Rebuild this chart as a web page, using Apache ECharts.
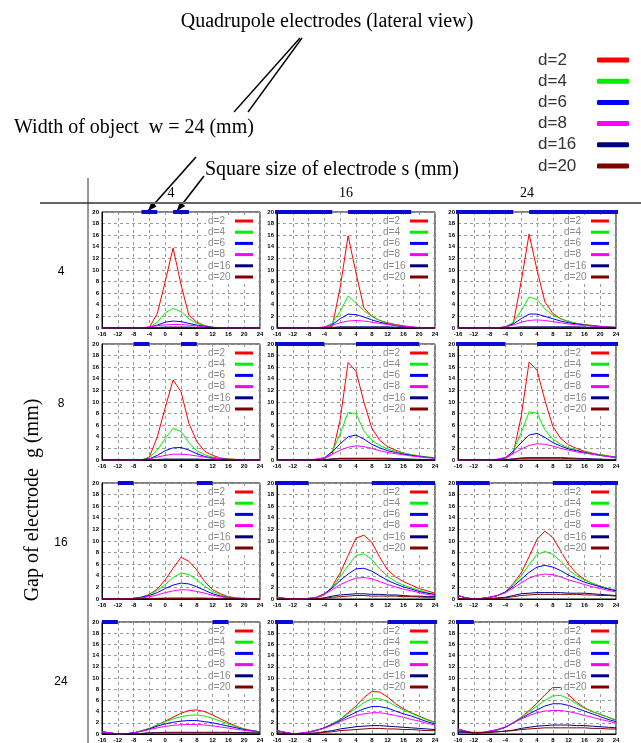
<!DOCTYPE html>
<html>
<head>
<meta charset="utf-8">
<script src="https://cdn.jsdelivr.net/npm/echarts@6/dist/echarts.min.js"></script>
<style>html,body{margin:0;padding:0;background:#fff}#chart{width:641px;height:743px}</style>
</head>
<body>
<div id="chart"></div>
<script>
var chartDom = document.getElementById('chart');
var myChart = echarts.init(chartDom);

// x positions (mm) shared by every curve
var xs = [-16, -14, -12, -10, -8, -6, -4, -2, 0, 2, 4, 6, 8, 10, 12, 14, 16, 18, 20, 22, 24];
var dNames = ['d=2', 'd=4', 'd=6', 'd=8', 'd=16', 'd=20'];
var dColors = ['#ff0000', '#00ee00', '#0000ff', '#ff00ff', '#000080', '#800000'];
var gaps = [4, 8, 16, 24];      // rows: gap of electrode g
var sizes = [4, 16, 24];        // columns: square size s
var gapLabels = ['4', '8', '16', '24'];
var sizeLabels = ['4', '16', '24'];

// one array per panel, rows are d=2, d=4, d=6, d=8, d=16, d=20
var g4s4 = [
    [0, 0, 0, 0, 0, 0, 0.1, 2.5, 8, 13.8, 7.5, 2.2, 1, 0.4, 0.1, 0, 0, 0, 0, 0, 0],
    [0, 0, 0, 0, 0, 0, 0.1, 1.0, 2.6, 3.4, 2.8, 1.6, 0.8, 0.4, 0.15, 0.05, 0, 0, 0, 0, 0],
    [0, 0, 0, 0, 0, 0, 0.1, 0.5, 1.0, 1.2, 1.1, 0.8, 0.5, 0.3, 0.1, 0, 0, 0, 0, 0, 0],
    [0, 0, 0, 0, 0, 0.05, 0.2, 0.4, 0.55, 0.6, 0.6, 0.5, 0.35, 0.2, 0.1, 0.05, 0, 0, 0, 0, 0],
    [0, 0, 0, 0, 0, 0, 0.05, 0.1, 0.15, 0.15, 0.15, 0.15, 0.1, 0.1, 0.05, 0, 0, 0, 0, 0, 0],
    [0, 0, 0, 0, 0, 0, 0, 0.05, 0.1, 0.1, 0.1, 0.1, 0.05, 0.05, 0, 0, 0, 0, 0, 0, 0]
];
var g4s16 = [
    [0, 0, 0, 0, 0, 0, 0, 0.3, 7, 15.9, 9.5, 3.5, 2.0, 1.3, 0.9, 0.6, 0.4, 0.2, 0, 0, 0],
    [0, 0, 0, 0, 0, 0, 0.1, 0.9, 2.9, 5.5, 4.3, 3.0, 2.0, 1.3, 0.8, 0.5, 0.3, 0.15, 0, 0, 0],
    [0, 0, 0, 0, 0, 0, 0.1, 0.6, 1.6, 2.4, 2.3, 1.9, 1.4, 1.0, 0.7, 0.4, 0.25, 0.1, 0, 0, 0],
    [0, 0, 0, 0, 0, 0.05, 0.2, 0.5, 0.9, 1.2, 1.3, 1.2, 1.0, 0.8, 0.6, 0.45, 0.3, 0.2, 0.1, 0, 0],
    [0, 0, 0, 0, 0, 0, 0, 0.1, 0.2, 0.2, 0.2, 0.2, 0.2, 0.2, 0.2, 0.15, 0.1, 0, 0, 0, 0],
    [0, 0, 0, 0, 0, 0, 0, 0.05, 0.1, 0.1, 0.1, 0.1, 0.1, 0.1, 0.1, 0.05, 0, 0, 0, 0, 0]
];
var g4s24 = [
    [0, 0, 0, 0, 0, 0, 0, 0.8, 8, 16.2, 10, 4.5, 2.5, 1.6, 1.1, 0.8, 0.6, 0.45, 0.3, 0.2, 0.1],
    [0, 0, 0, 0, 0, 0, 0.2, 1.0, 3.0, 5.35, 4.9, 3.3, 2.2, 1.6, 1.1, 0.8, 0.55, 0.4, 0.25, 0.15, 0.1],
    [0, 0, 0, 0, 0, 0, 0.2, 0.7, 1.6, 2.4, 2.4, 2.0, 1.6, 1.2, 0.9, 0.7, 0.5, 0.35, 0.25, 0.15, 0.1],
    [0, 0, 0, 0, 0, 0.05, 0.2, 0.5, 1.0, 1.3, 1.4, 1.3, 1.1, 0.9, 0.7, 0.55, 0.45, 0.35, 0.25, 0.15, 0.1],
    [0, 0, 0, 0, 0, 0, 0.05, 0.1, 0.2, 0.2, 0.2, 0.2, 0.2, 0.2, 0.2, 0.2, 0.15, 0.1, 0.1, 0.05, 0.05],
    [0, 0, 0, 0, 0, 0, 0, 0.05, 0.1, 0.1, 0.1, 0.1, 0.1, 0.1, 0.1, 0.1, 0.1, 0.05, 0.05, 0, 0]
];
var g8s4 = [
    [0, 0, 0, 0, 0, 0, 0.5, 4, 9, 13.8, 11.8, 6.3, 3.2, 1.5, 0.8, 0.35, 0.2, 0.1, 0, 0, 0],
    [0, 0, 0, 0, 0, 0.05, 0.4, 1.7, 3.7, 5.45, 4.9, 3.0, 1.6, 0.9, 0.5, 0.3, 0.15, 0.1, 0.05, 0, 0],
    [0, 0, 0, 0, 0, 0.05, 0.2, 0.8, 1.6, 2.1, 2.15, 1.7, 1.1, 0.6, 0.35, 0.2, 0.1, 0.05, 0, 0, 0],
    [0, 0, 0, 0, 0, 0.05, 0.2, 0.5, 0.8, 1.0, 1.0, 0.9, 0.7, 0.5, 0.3, 0.2, 0.1, 0.05, 0, 0, 0],
    [0, 0, 0, 0, 0, 0, 0.05, 0.1, 0.15, 0.15, 0.15, 0.15, 0.15, 0.1, 0.1, 0.05, 0, 0, 0, 0, 0],
    [0, 0, 0, 0, 0, 0, 0, 0.05, 0.1, 0.1, 0.1, 0.1, 0.1, 0.05, 0.05, 0, 0, 0, 0, 0, 0]
];
var g8s16 = [
    [0, 0, 0, 0, 0, 0, 0.2, 1.0, 7, 16.8, 15.3, 10, 5.5, 3.4, 2.3, 1.7, 1.2, 0.9, 0.7, 0.5, 0.4],
    [0, 0, 0, 0, 0, 0.05, 0.3, 1.5, 4.5, 8.2, 8.0, 5.0, 3.4, 2.5, 1.9, 1.5, 1.2, 0.9, 0.7, 0.5, 0.4],
    [0, 0, 0, 0, 0, 0.1, 0.4, 1.4, 2.8, 4.0, 4.3, 3.6, 2.7, 2.1, 1.6, 1.3, 1.0, 0.8, 0.6, 0.45, 0.35],
    [0, 0, 0, 0, 0.05, 0.15, 0.4, 1.0, 1.7, 2.2, 2.45, 2.3, 2.0, 1.6, 1.3, 1.1, 0.9, 0.7, 0.55, 0.4, 0.3],
    [0, 0, 0, 0, 0, 0, 0.05, 0.2, 0.3, 0.3, 0.3, 0.3, 0.3, 0.3, 0.3, 0.25, 0.2, 0.15, 0.1, 0.1, 0.05],
    [0, 0, 0, 0, 0, 0, 0.05, 0.15, 0.25, 0.25, 0.25, 0.25, 0.25, 0.25, 0.2, 0.15, 0.1, 0.1, 0.05, 0.05, 0]
];
var g8s24 = [
    [0, 0, 0, 0, 0, 0, 0.2, 1.2, 7.5, 16.9, 15.5, 10.3, 5.8, 3.7, 2.6, 2.0, 1.5, 1.2, 0.9, 0.7, 0.5],
    [0, 0, 0, 0, 0, 0.05, 0.3, 1.6, 4.7, 8.3, 8.1, 5.2, 3.6, 2.7, 2.1, 1.7, 1.4, 1.1, 0.9, 0.7, 0.5],
    [0, 0, 0, 0, 0, 0.1, 0.4, 1.5, 3.0, 4.3, 4.6, 3.9, 3.0, 2.4, 1.9, 1.6, 1.3, 1.0, 0.8, 0.6, 0.45],
    [0, 0, 0, 0, 0.05, 0.15, 0.45, 1.1, 1.9, 2.5, 2.8, 2.7, 2.4, 2.0, 1.7, 1.4, 1.2, 1.0, 0.8, 0.6, 0.45],
    [0, 0, 0, 0, 0, 0, 0.05, 0.2, 0.35, 0.4, 0.4, 0.4, 0.4, 0.4, 0.35, 0.3, 0.25, 0.2, 0.15, 0.1, 0.1],
    [0, 0, 0, 0, 0, 0, 0.05, 0.15, 0.25, 0.3, 0.3, 0.3, 0.3, 0.3, 0.25, 0.2, 0.15, 0.1, 0.1, 0.05, 0.05]
];
var g16s4 = [
    [0, 0, 0, 0, 0.1, 0.3, 0.8, 1.7, 3.3, 5.3, 7.2, 6.5, 5.0, 3.0, 1.6, 0.9, 0.4, 0.2, 0.1, 0, 0],
    [0, 0, 0, 0, 0.1, 0.3, 0.7, 1.5, 2.5, 3.7, 4.5, 4.2, 3.3, 2.2, 1.3, 0.7, 0.35, 0.15, 0.05, 0, 0],
    [0, 0, 0, 0, 0.1, 0.3, 0.6, 1.1, 1.8, 2.4, 2.75, 2.6, 2.1, 1.5, 0.9, 0.5, 0.25, 0.1, 0, 0, 0],
    [0.1, 0.05, 0, 0.05, 0.1, 0.2, 0.4, 0.7, 1.1, 1.4, 1.6, 1.55, 1.3, 1.0, 0.65, 0.4, 0.2, 0.1, 0.1, 0.1, 0.1],
    [0, 0, 0, 0, 0, 0.05, 0.1, 0.1, 0.15, 0.15, 0.15, 0.15, 0.15, 0.15, 0.1, 0.1, 0.1, 0.05, 0, 0, 0],
    [0, 0, 0, 0, 0, 0, 0.05, 0.1, 0.1, 0.1, 0.1, 0.1, 0.1, 0.1, 0.1, 0.05, 0.05, 0, 0, 0, 0]
];
var g16s16 = [
    [0.3, 0.1, 0, 0, 0.05, 0.2, 0.7, 2.2, 4.5, 7.5, 10.5, 11.0, 9.8, 7.2, 5.0, 3.8, 3.0, 2.4, 1.8, 1.4, 1.0],
    [0.3, 0.1, 0, 0, 0.05, 0.2, 0.8, 2.0, 3.8, 5.8, 7.5, 7.8, 6.8, 5.2, 3.9, 3.0, 2.4, 1.9, 1.5, 1.1, 0.8],
    [0.3, 0.1, 0, 0, 0.1, 0.3, 0.9, 1.9, 3.2, 4.3, 5.2, 5.3, 4.8, 4.0, 3.2, 2.6, 2.1, 1.7, 1.3, 1.0, 0.8],
    [0.3, 0.1, 0, 0, 0.1, 0.3, 0.8, 1.6, 2.5, 3.1, 3.6, 3.7, 3.5, 3.0, 2.5, 2.1, 1.7, 1.4, 1.1, 0.8, 0.6],
    [0, 0, 0, 0, 0, 0.05, 0.2, 0.5, 0.7, 0.8, 0.9, 0.9, 0.8, 0.8, 0.7, 0.7, 0.6, 0.5, 0.5, 0.4, 0.4],
    [0, 0, 0, 0, 0, 0.05, 0.1, 0.3, 0.4, 0.5, 0.6, 0.6, 0.5, 0.5, 0.5, 0.5, 0.4, 0.4, 0.35, 0.3, 0.3]
];
var g16s24 = [
    [0.6, 0.2, 0, 0.1, 0.3, 0.6, 1.2, 2.7, 4.5, 7.3, 10.3, 11.7, 10.6, 8.3, 6.0, 4.4, 3.4, 2.7, 2.2, 1.8, 1.5],
    [0.6, 0.2, 0, 0.1, 0.3, 0.6, 1.2, 2.5, 4.0, 5.9, 7.7, 8.2, 7.7, 6.5, 5.0, 4.0, 3.3, 2.7, 2.2, 1.8, 1.5],
    [0.6, 0.2, 0, 0.1, 0.3, 0.6, 1.2, 2.2, 3.4, 4.6, 5.5, 5.8, 5.5, 4.9, 4.1, 3.5, 2.9, 2.5, 2.1, 1.7, 1.4],
    [0.6, 0.2, 0, 0.1, 0.3, 0.6, 1.1, 1.9, 2.8, 3.6, 4.1, 4.3, 4.2, 3.8, 3.3, 2.9, 2.5, 2.1, 1.8, 1.5, 1.2],
    [0.1, 0, 0, 0, 0.1, 0.2, 0.3, 0.6, 0.9, 1.0, 1.1, 1.1, 1.1, 1.1, 1.0, 1.0, 1.0, 0.9, 0.8, 0.7, 0.6],
    [0.1, 0, 0, 0, 0.05, 0.1, 0.2, 0.4, 0.6, 0.7, 0.8, 0.8, 0.8, 0.8, 0.8, 0.8, 0.7, 0.7, 0.6, 0.6, 0.5]
];
var g24s4 = [
    [0.4, 0.2, 0, 0.05, 0.2, 0.6, 1.0, 1.6, 2.3, 3.0, 3.7, 4.2, 4.3, 4.0, 3.4, 2.7, 2.0, 1.4, 0.9, 0.6, 0.4],
    [0.4, 0.2, 0, 0.05, 0.2, 0.6, 1.0, 1.6, 2.2, 2.7, 3.1, 3.35, 3.4, 3.2, 2.8, 2.3, 1.8, 1.3, 0.9, 0.6, 0.4],
    [0.4, 0.2, 0, 0.05, 0.2, 0.5, 0.9, 1.4, 1.8, 2.1, 2.3, 2.4, 2.4, 2.2, 2.0, 1.7, 1.4, 1.1, 0.8, 0.55, 0.4],
    [0.4, 0.2, 0, 0.05, 0.2, 0.5, 0.8, 1.1, 1.35, 1.55, 1.65, 1.7, 1.7, 1.6, 1.45, 1.25, 1.05, 0.85, 0.65, 0.5, 0.35],
    [0.1, 0, 0, 0, 0.05, 0.1, 0.2, 0.25, 0.3, 0.3, 0.3, 0.3, 0.3, 0.3, 0.3, 0.3, 0.3, 0.25, 0.25, 0.2, 0.2],
    [0.1, 0, 0, 0, 0.05, 0.1, 0.15, 0.2, 0.2, 0.2, 0.2, 0.2, 0.2, 0.2, 0.2, 0.2, 0.2, 0.2, 0.15, 0.15, 0.15]
];
var g24s16 = [
    [0.6, 0.3, 0.05, 0.1, 0.3, 0.6, 1.1, 1.8, 2.6, 3.8, 5.0, 6.5, 7.6, 7.5, 6.6, 5.4, 4.5, 3.8, 3.2, 2.6, 2.1],
    [0.6, 0.3, 0.05, 0.1, 0.3, 0.6, 1.1, 1.8, 2.6, 3.6, 4.6, 5.6, 6.3, 6.3, 5.8, 5.0, 4.3, 3.7, 3.1, 2.5, 2.0],
    [0.6, 0.3, 0.05, 0.15, 0.35, 0.7, 1.1, 1.7, 2.4, 3.2, 3.9, 4.5, 4.9, 4.9, 4.6, 4.1, 3.6, 3.2, 2.7, 2.2, 1.8],
    [0.6, 0.3, 0.05, 0.15, 0.35, 0.7, 1.0, 1.6, 2.2, 2.8, 3.3, 3.6, 3.8, 3.8, 3.6, 3.3, 3.0, 2.6, 2.3, 1.9, 1.6],
    [0.2, 0.1, 0, 0, 0.1, 0.2, 0.4, 0.6, 0.9, 1.1, 1.3, 1.4, 1.5, 1.5, 1.4, 1.3, 1.2, 1.1, 1.0, 0.9, 0.8],
    [0.2, 0.1, 0, 0, 0.1, 0.15, 0.3, 0.4, 0.6, 0.7, 0.8, 0.9, 1.0, 1.0, 0.9, 0.9, 0.8, 0.8, 0.7, 0.6, 0.6]
];
var g24s24 = [
    [0.8, 0.4, 0.1, 0.2, 0.4, 0.7, 1.2, 2.0, 3.0, 4.2, 5.5, 7.0, 8.3, 8.3, 7.0, 5.7, 4.7, 4.0, 3.5, 3.0, 2.5],
    [0.8, 0.4, 0.1, 0.2, 0.4, 0.7, 1.2, 2.0, 3.0, 4.0, 5.0, 6.0, 6.8, 6.9, 6.3, 5.4, 4.6, 4.0, 3.5, 3.0, 2.4],
    [0.9, 0.5, 0.1, 0.25, 0.5, 0.8, 1.2, 2.0, 2.8, 3.6, 4.3, 5.0, 5.4, 5.4, 5.1, 4.6, 4.1, 3.6, 3.1, 2.6, 2.2],
    [0.9, 0.5, 0.1, 0.25, 0.5, 0.8, 1.3, 2.0, 2.7, 3.3, 3.8, 4.1, 4.2, 4.2, 4.0, 3.7, 3.3, 3.0, 2.6, 2.3, 1.9],
    [0.3, 0.3, 0.2, 0.2, 0.3, 0.4, 0.5, 0.7, 1.0, 1.2, 1.4, 1.5, 1.6, 1.6, 1.6, 1.5, 1.5, 1.4, 1.3, 1.2, 1.1],
    [0.5, 0.4, 0.3, 0.3, 0.3, 0.4, 0.5, 0.6, 0.8, 0.9, 1.0, 1.1, 1.1, 1.1, 1.1, 1.1, 1.1, 1.0, 1.0, 0.9, 0.9]
];

var panels = [
    [g4s4, g4s16, g4s24],
    [g8s4, g8s16, g8s24],
    [g16s4, g16s16, g16s24],
    [g24s4, g24s16, g24s24]
];

// layout of the small plots
var colLeft = [102, 277, 458];
var rowTop = [212, 344, 483, 622];
var plotW = 158, plotH = 116;
var serif = '"Liberation Serif", "DejaVu Serif", serif';
var sans = '"Liberation Sans", Arial, sans-serif';

function _plotFigure() {
    var option = {
        animation: false,
        backgroundColor: '#fff',
        grid: [], xAxis: [], yAxis: [], legend: [], series: [], graphic: []
    };

    var k = 0;
    for (var r = 0; r < 4; r++) {
        for (var c = 0; c < 3; c++) {
            option.grid.push({
                left: colLeft[c], top: rowTop[r], width: plotW, height: plotH,
                show: true, borderColor: '#000', borderWidth: 1, backgroundColor: '#fff'
            });
            option.xAxis.push({
                type: 'value', gridIndex: k, min: -16, max: 24, interval: 4,
                axisLine: {show: true, onZero: false, lineStyle: {color: '#000'}},
                axisTick: {show: false},
                axisLabel: {fontSize: 6, fontWeight: 'bold', color: '#000', margin: 3, fontFamily: sans},
                splitLine: {show: true, lineStyle: {color: '#9a9a9a', type: [3, 3]}}
            });
            option.yAxis.push({
                type: 'value', gridIndex: k, min: 0, max: 20, interval: 2,
                axisLine: {show: true, onZero: false, lineStyle: {color: '#000'}},
                axisTick: {show: false},
                axisLabel: {fontSize: 6, fontWeight: 'bold', color: '#000', margin: 3, fontFamily: sans},
                splitLine: {show: true, lineStyle: {color: '#9a9a9a', type: [3, 3]}}
            });

            panels[r][c].forEach(function (vals, j) {
                option.series.push({
                    type: 'line', name: dNames[j], xAxisIndex: k, yAxisIndex: k,
                    data: xs.map(function (x, i) { return [x, vals[i]]; }),
                    symbol: 'none', silent: true, z: 3,
                    lineStyle: {width: 1, color: dColors[j]},
                    itemStyle: {color: dColors[j]}
                });
            });

            // electrodes drawn on top of each plot (lateral view)
            var g = gaps[r], s = sizes[c];
            var segs = [[-(g / 2 + s), -g / 2], [g / 2, g / 2 + s]];
            segs.forEach(function (sg) {
                var a = Math.max(sg[0], -19.5), b = Math.min(sg[1], 25.5);
                option.series.push({
                    type: 'line', name: 'electrode', xAxisIndex: k, yAxisIndex: k,
                    data: [[a, 20], [b, 20]], clip: false, symbol: 'none', silent: true, z: 6,
                    lineStyle: {width: 4, color: '#0a0ad2', cap: 'butt'}
                });
            });

            option.legend.push({
                data: dNames, orient: 'vertical', selectedMode: false,
                right: 641 - (colLeft[c] + plotW - 5), top: rowTop[r] + 3,
                align: 'right', icon: 'rect', itemWidth: 18, itemHeight: 3,
                itemGap: 1.2, itemTextGap: 4, padding: [1, 2],
                backgroundColor: '#fff',
                formatter: '{t|{name}}',
                textStyle: {
                    fontSize: 10, lineHeight: 10, color: '#8a8a8a', fontFamily: sans,
                    rich: {t: {width: 22, align: 'left', fontSize: 10, lineHeight: 10, color: '#8a8a8a', fontFamily: sans}}
                }
            });
            k++;
        }
    }

    // big legend top right
    option.legend.push({
        data: dNames, orient: 'vertical', selectedMode: false,
        right: 12, top: 51, align: 'right', icon: 'roundRect',
        itemWidth: 32, itemHeight: 5, itemGap: 3.2, itemTextGap: 6, padding: 0,
        formatter: '{t|{name}}',
        textStyle: {
            fontSize: 17, lineHeight: 18, color: '#333', fontFamily: sans,
            rich: {t: {width: 54, align: 'left', fontSize: 17, lineHeight: 18, color: '#333', fontFamily: sans}}
        }
    });

    var gr = option.graphic;
    function txt(x, y, t, font, align, rot) {
        gr.push({
            type: 'text', x: x, y: y, rotation: rot || 0,
            style: {text: t, font: font, fill: '#000', textAlign: align || 'left', textVerticalAlign: 'middle'}
        });
    }
    function seg(x1, y1, x2, y2, w, col) {
        gr.push({type: 'line', shape: {x1: x1, y1: y1, x2: x2, y2: y2}, style: {stroke: col || '#000', lineWidth: w || 1.2}});
    }
    function arrow(x1, y1, x2, y2) {
        seg(x1, y1, x2, y2, 1.6);
        var dx = x2 - x1, dy = y2 - y1, L = Math.sqrt(dx * dx + dy * dy);
        var ux = dx / L, uy = dy / L, hl = 9, hw = 3.5;
        gr.push({
            type: 'polygon',
            shape: {points: [[x2, y2], [x2 - ux * hl - uy * hw, y2 - uy * hl + ux * hw], [x2 - ux * hl + uy * hw, y2 - uy * hl - ux * hw]]},
            style: {fill: '#000'}
        });
    }

    txt(327, 22, 'Quadrupole electrodes (lateral view)', '20px ' + serif, 'center');
    txt(14, 128, 'Width of object  w = 24 (mm)', '20px ' + serif, 'left');
    txt(205, 170, 'Square size of electrode s (mm)', '20px ' + serif, 'left');
    seg(300, 38, 234, 112, 1.4);
    seg(302, 38, 248, 112, 1.4);
    arrow(196, 157, 148, 211);
    arrow(204, 176, 177, 211);

    seg(40, 203, 641, 203, 2, '#666');
    seg(88, 178, 88, 743, 1, '#333');

    sizeLabels.forEach(function (t, c) {
        txt(colLeft[c] + plotW / 2 - 10, 193, t, '14px ' + serif, 'center');
    });
    gapLabels.forEach(function (t, r) {
        txt(61, rowTop[r] + 60, t, '12px ' + sans, 'center');
    });
    txt(33, 500, 'Gap of electrode  g (mm)', '20px ' + serif, 'center', Math.PI / 2);

    myChart.setOption(option);
}

_plotFigure();
</script>
</body>
</html>
